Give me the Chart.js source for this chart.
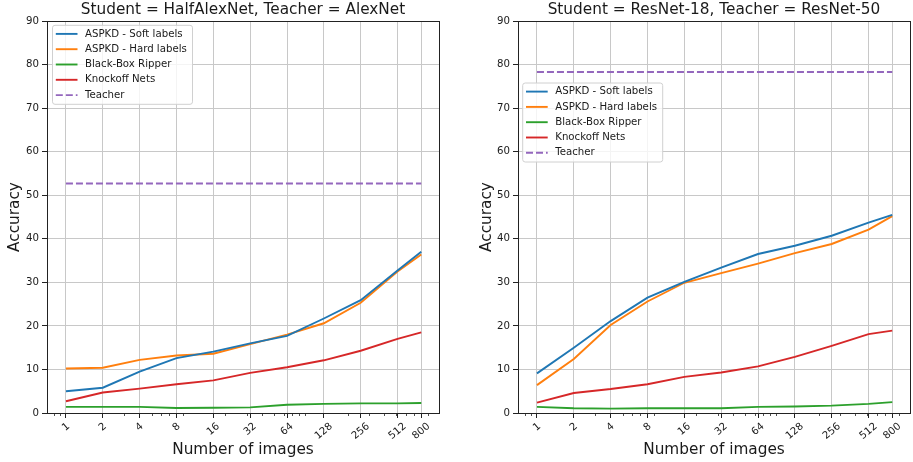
<!DOCTYPE html>
<html>
<head>
<meta charset="utf-8">
<script src="https://cdn.jsdelivr.net/npm/chart.js@4.4.0/dist/chart.umd.min.js"></script>
<style>
  body { margin: 0; background: #fff; }
  #wrap { position: relative; width: 913px; height: 462px; overflow: hidden; }
  canvas { position: absolute; top: 0; }
</style>
</head>
<body>
<div id="wrap">
  <canvas id="left-chart" width="470" height="462" style="left:0"></canvas>
  <canvas id="right-chart" width="443" height="462" style="left:470px"></canvas>
</div>
<script>
// --- data ---
const numImages = [1, 2, 4, 8, 16, 32, 64, 128, 256, 512, 800];
const xTickLabels = ['1', '2', '4', '8', '16', '32', '64', '128', '256', '512', '800'];
const xMinorTicks = [0.8, 0.9, 3, 5, 6, 7, 9, 20, 30, 40, 50, 60, 70, 80, 90, 200, 300, 400, 500, 600, 700, 900];
const seriesNames = ['ASPKD - Soft labels', 'ASPKD - Hard labels', 'Black-Box Ripper', 'Knockoff Nets', 'Teacher'];

// Student = HalfAlexNet, Teacher = AlexNet
const alexSoft = [5.0, 5.8, 9.5, 12.6, 14.1, 16.0, 17.7, 21.7, 25.9, 32.7, 37.0];
const alexHard = [10.2, 10.4, 12.2, 13.2, 13.6, 15.8, 18.0, 20.6, 25.3, 32.5, 36.4];
const alexRipper = [1.4, 1.4, 1.4, 1.15, 1.2, 1.3, 1.9, 2.1, 2.2, 2.2, 2.3];
const alexKnockoff = [2.7, 4.7, 5.6, 6.6, 7.5, 9.2, 10.5, 12.1, 14.3, 17.0, 18.5];
const alexTeacher = 52.7;

// Student = ResNet-18, Teacher = ResNet-50
const resSoft = [9.1, 15.0, 21.1, 26.5, 30.1, 33.4, 36.5, 38.4, 40.7, 43.7, 45.5];
const resHard = [6.4, 12.4, 20.2, 25.6, 29.9, 32.1, 34.3, 36.7, 38.8, 42.1, 45.2];
const resRipper = [1.4, 1.1, 1.0, 1.1, 1.1, 1.1, 1.4, 1.5, 1.7, 2.1, 2.5];
const resKnockoff = [2.4, 4.6, 5.5, 6.6, 8.3, 9.3, 10.7, 12.9, 15.4, 18.1, 18.9];
const resTeacher = 78.3;

const FONT = "'DejaVu Sans', sans-serif";
const TEXT = '#1a1a1a';
const COLORS = ['#1f77b4', '#ff7f0e', '#2ca02c', '#d62728', '#9467bd'];
const ROT = 40 * Math.PI / 180;

function toPoints(vals) {
    return numImages.map((x, i) => ({ x: x, y: vals[i] }));
}

function buildDatasets(soft, hard, ripper, knockoff, teacher) {
    const series = [soft, hard, ripper, knockoff];
    const sets = series.map((vals, i) => ({
        label: seriesNames[i],
        data: toPoints(vals),
        borderColor: COLORS[i],
        borderWidth: 1.9,
        pointRadius: 0,
        tension: 0
    }));
    sets.push({
        label: seriesNames[4],
        data: [{ x: numImages[0], y: teacher }, { x: numImages[numImages.length - 1], y: teacher }],
        borderColor: COLORS[4],
        borderWidth: 1.9,
        borderDash: [7, 3],
        pointRadius: 0
    });
    return sets;
}

// draws spines, minor ticks, rotated x labels, title and the legend box
const panelDecor = {
    id: 'panelDecor',
    afterDatasetsDraw(chart, args, opts) {
        const { ctx, chartArea: a } = chart;
        const xs = chart.scales.x;
        ctx.save();

        // spines
        ctx.strokeStyle = '#222';
        ctx.lineWidth = 1;
        ctx.strokeRect(a.left + 0.5, a.top + 0.5, a.right - a.left, a.bottom - a.top);

        // minor ticks on log axis
        ctx.lineWidth = 0.8;
        xMinorTicks.forEach(v => {
            const px = Math.round(xs.getPixelForValue(v)) + 0.5;
            if (px < a.left || px > a.right) return;
            ctx.beginPath();
            ctx.moveTo(px, a.bottom);
            ctx.lineTo(px, a.bottom + 3);
            ctx.stroke();
        });

        // rotated tick labels, bbox centred under the tick
        ctx.font = '10.2px ' + FONT;
        ctx.fillStyle = TEXT;
        ctx.textAlign = 'center';
        ctx.textBaseline = 'middle';
        numImages.forEach((v, i) => {
            const px = xs.getPixelForValue(v);
            const w = ctx.measureText(xTickLabels[i]).width;
            const h = 8;
            const cy = a.bottom + 9 + (w * Math.sin(ROT) + h * Math.cos(ROT)) / 2;
            ctx.save();
            ctx.translate(px, cy);
            ctx.rotate(-ROT);
            ctx.fillText(xTickLabels[i], 0, 0);
            ctx.restore();
        });

        // panel title
        ctx.font = '15.3px ' + FONT;
        ctx.fillText(opts.title, (a.left + a.right) / 2, 10.5);

        // legend
        const lx = a.left + opts.legendX, ly = a.top + opts.legendY;
        const lw = 140, lh = 79;
        ctx.beginPath();
        ctx.roundRect(lx, ly, lw, lh, 2.5);
        ctx.fillStyle = 'rgba(255,255,255,0.8)';
        ctx.fill();
        ctx.strokeStyle = '#d0d0d0';
        ctx.lineWidth = 1;
        ctx.stroke();
        ctx.font = '10.2px ' + FONT;
        ctx.textAlign = 'left';
        chart.data.datasets.forEach((ds, i) => {
            const y = ly + 8.6 + i * 15.3;
            ctx.strokeStyle = ds.borderColor;
            ctx.lineWidth = ds.borderWidth;
            ctx.setLineDash(ds.borderDash || []);
            ctx.beginPath();
            ctx.moveTo(lx + 3.3, y);
            ctx.lineTo(lx + 25, y);
            ctx.stroke();
            ctx.setLineDash([]);
            ctx.fillStyle = TEXT;
            ctx.fillText(ds.label, lx + 32.5, y);
        });
        ctx.restore();
    }
};

function makeChart(canvasId, datasets, opt) {
    const ctx = document.getElementById(canvasId).getContext('2d');
    return new Chart(ctx, {
        type: 'line',
        data: { datasets: datasets },
        plugins: [panelDecor],
        options: {
            responsive: false,
            animation: false,
            events: [],
            layout: { padding: { top: 21, right: opt.padRight, left: 0, bottom: 0 } },
            plugins: {
                legend: { display: false },
                tooltip: { enabled: false },
                panelDecor: { title: opt.title, legendX: opt.legendX, legendY: opt.legendY }
            },
            scales: {
                x: {
                    type: 'logarithmic',
                    min: 0.716,
                    max: 1117,
                    afterBuildTicks: scale => { scale.ticks = numImages.map(v => ({ value: v })); },
                    afterFit: scale => { scale.height = 49; },
                    ticks: { display: false },
                    grid: { color: '#c8c8c8', lineWidth: 1, tickLength: 5, tickColor: '#222', tickWidth: 1 },
                    border: { display: false },
                    title: {
                        display: true, text: 'Number of images', color: TEXT,
                        font: { family: FONT, size: 15.3 }, padding: { top: 0, bottom: 2.4 }
                    }
                },
                y: {
                    type: 'linear',
                    min: 0,
                    max: 90,
                    afterFit: scale => { scale.width = opt.yWidth; },
                    ticks: { stepSize: 10, color: TEXT, font: { family: FONT, size: 10.2 }, padding: 3 },
                    grid: { color: '#c8c8c8', lineWidth: 1, tickLength: 5, tickColor: '#222', tickWidth: 1 },
                    border: { display: false },
                    title: {
                        display: true, text: 'Accuracy', color: TEXT,
                        font: { family: FONT, size: 15.3 }, padding: { top: opt.yTitlePad, bottom: 0 }
                    }
                }
            }
        }
    });
}

makeChart('left-chart',
    buildDatasets(alexSoft, alexHard, alexRipper, alexKnockoff, alexTeacher),
    { title: 'Student = HalfAlexNet, Teacher = AlexNet', padRight: 31, yWidth: 47, yTitlePad: 5.8, legendX: 5.5, legendY: 4.3 });

makeChart('right-chart',
    buildDatasets(resSoft, resHard, resRipper, resKnockoff, resTeacher),
    { title: 'Student = ResNet-18, Teacher = ResNet-50', padRight: 3, yWidth: 48, yTitlePad: 7.8, legendX: 4.7, legendY: 62 });
</script>
</body>
</html>
